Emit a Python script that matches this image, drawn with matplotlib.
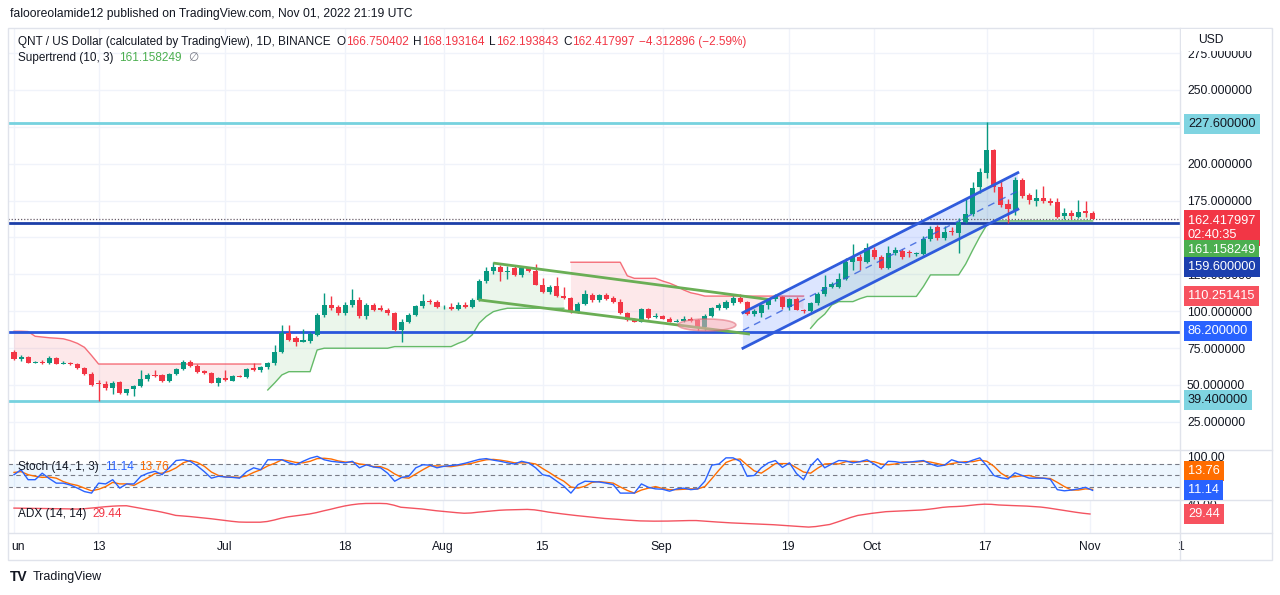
import numpy as np
import matplotlib
matplotlib.use("Agg")
import matplotlib.pyplot as plt
from matplotlib.patches import Ellipse, Rectangle, Polygon
from matplotlib.lines import Line2D

plt.rcParams['font.family'] = ['Liberation Sans', 'DejaVu Sans']

W, H = 1280, 595

# QNT/USD daily candles, Jun 01 2022 .. Nov 01 2022 (day 0 = Jun 01)
opens = [72.2, 67.6, 69.0, 65.1, 65.6, 64.8, 68.3, 64.5, 65.0, 64.0,
         61.4, 57.5, 51.2, 50.8, 47.8, 52.0, 44.6, 47.0, 49.3, 54.0,
         56.8, 56.5, 52.5, 57.7, 60.7, 65.8, 63.0, 59.2, 58.0, 51.6,
         54.6, 53.0, 56.0, 55.7, 61.8, 60.2, 62.0, 64.8, 72.6, 85.0,
         81.6, 79.4, 79.8, 83.9, 97.5, 104.2, 103.0, 98.6, 104.0, 107.6,
         96.6, 104.0, 102.0, 101.0, 98.6, 87.3, 93.0, 97.5, 103.5, 107.0,
         106.5, 102.7, 103.0, 101.6, 104.5, 103.0, 107.6, 120.5, 127.0, 129.8,
         126.5, 129.2, 124.5, 129.0, 127.0, 118.0, 113.0, 117.0, 110.0, 108.8,
         99.3, 104.8, 111.0, 107.6, 110.8, 108.8, 106.5, 98.6, 94.6, 93.0,
         101.5, 96.0, 96.6, 95.0, 93.0, 93.4, 95.0, 94.0, 89.6, 96.6,
         102.0, 102.0, 105.3, 109.0, 106.5, 98.0, 99.0, 104.0, 108.0, 109.5,
         103.0, 108.6, 101.0, 100.4, 105.5, 111.5, 116.5, 116.5, 121.8, 133.3,
         137.0, 133.6, 141.5, 137.0, 129.2, 139.3, 141.0, 139.8, 138.8, 138.5,
         148.8, 157.0, 149.5, 154.5, 152.9, 160.7, 165.7, 184.5, 193.5, 209.3,
         184.5, 173.0, 168.6, 189.0, 178.8, 174.7, 177.0, 175.0, 174.0, 164.5,
         166.5, 164.2, 167.9, 166.750402]
highs = [73.5, 70.0, 69.5, 66.3, 66.8, 69.5, 68.8, 66.0, 65.8, 64.8,
         62.0, 58.5, 53.5, 53.0, 52.5, 52.8, 47.5, 50.0, 60.0, 58.0,
         60.0, 57.5, 58.3, 61.5, 67.0, 67.2, 64.0, 60.0, 58.6, 55.5,
         60.0, 56.8, 56.8, 61.5, 65.0, 63.0, 65.5, 77.0, 90.7, 90.5,
         83.0, 87.8, 86.0, 99.0, 112.6, 110.0, 104.5, 106.0, 115.0, 109.5,
         105.5, 105.5, 104.0, 102.0, 99.5, 94.5, 98.5, 104.5, 111.5, 108.5,
         107.5, 104.5, 105.5, 106.0, 106.5, 109.0, 122.0, 130.0, 133.6, 131.0,
         130.5, 131.0, 130.0, 130.0, 132.0, 122.5, 117.5, 123.4, 116.5, 109.5,
         106.0, 114.5, 112.5, 112.0, 112.5, 110.0, 108.0, 99.5, 95.5, 102.5,
         102.5, 99.0, 97.5, 96.0, 94.5, 96.5, 96.0, 95.0, 98.0, 103.0,
         105.5, 107.5, 110.5, 112.0, 107.0, 101.5, 105.0, 109.0, 111.5, 110.5,
         109.0, 109.5, 101.5, 106.0, 113.0, 124.6, 120.0, 126.0, 136.0, 145.6,
         138.5, 146.5, 143.5, 138.0, 144.4, 143.5, 142.0, 141.5, 140.0, 151.0,
         158.0, 158.5, 157.5, 157.0, 163.0, 176.6, 187.8, 197.0, 228.1, 210.0,
         188.0, 176.0, 191.0, 190.0, 180.0, 183.0, 185.0, 177.0, 176.5, 170.0,
         168.5, 175.4, 174.7, 168.193164]
lows = [67.0, 66.5, 64.8, 64.6, 64.3, 64.2, 64.0, 64.0, 63.2, 60.8,
        56.8, 49.5, 39.4, 46.5, 44.0, 43.8, 43.5, 42.5, 48.5, 53.0,
        55.5, 52.0, 52.0, 57.0, 60.0, 62.5, 58.0, 57.5, 51.0, 49.0,
        53.0, 52.5, 55.2, 55.0, 59.5, 59.0, 61.0, 63.5, 71.5, 79.5,
        76.5, 78.8, 78.5, 83.0, 96.0, 100.5, 97.5, 97.5, 103.0, 95.5,
        95.0, 100.0, 100.0, 97.5, 86.5, 79.4, 92.0, 96.5, 102.5, 105.0,
        102.0, 101.5, 100.5, 101.0, 102.5, 102.5, 107.0, 119.0, 125.5, 120.5,
        121.5, 124.0, 123.5, 126.5, 117.5, 112.5, 111.5, 109.5, 108.0, 98.5,
        98.5, 104.0, 106.5, 106.5, 107.5, 105.5, 98.0, 93.5, 92.5, 92.5,
        95.0, 95.5, 94.5, 92.5, 92.5, 93.0, 93.0, 87.5, 87.3, 96.0,
        101.0, 101.5, 104.5, 105.5, 97.5, 96.5, 96.3, 101.5, 107.0, 101.5,
        100.5, 100.5, 98.5, 99.5, 104.5, 110.5, 115.5, 115.5, 121.0, 128.0,
        128.0, 132.5, 135.5, 128.5, 128.5, 138.0, 135.5, 137.0, 137.5, 138.0,
        147.5, 148.0, 148.5, 152.0, 139.5, 159.5, 164.5, 180.0, 190.5, 181.0,
        170.5, 159.6, 165.5, 176.5, 172.5, 171.0, 173.5, 172.0, 163.0, 162.5,
        162.5, 163.5, 164.0, 162.193843]
closes = [67.6, 69.0, 65.1, 65.6, 64.8, 68.5, 64.5, 65.0, 64.0, 61.4,
          57.3, 50.0, 50.8, 47.8, 51.6, 44.4, 47.0, 49.3, 54.0, 57.0,
          56.2, 52.5, 57.7, 60.7, 65.8, 63.0, 58.6, 58.0, 51.6, 54.6,
          53.5, 56.1, 55.7, 60.7, 60.2, 62.0, 64.8, 72.6, 85.0, 80.5,
          79.4, 80.5, 84.6, 97.5, 104.2, 102.0, 98.6, 104.0, 107.6, 96.6,
          104.0, 101.0, 101.0, 98.6, 87.3, 93.0, 97.5, 103.5, 107.0, 106.5,
          102.7, 103.0, 101.6, 104.5, 103.0, 107.6, 120.5, 127.0, 129.8, 126.5,
          127.0, 124.5, 129.0, 127.0, 118.0, 113.0, 116.5, 110.0, 108.8, 99.3,
          104.8, 111.5, 107.6, 110.8, 108.0, 106.5, 98.6, 94.0, 93.0, 101.5,
          95.7, 96.3, 95.0, 93.0, 93.6, 95.0, 93.4, 89.6, 96.6, 102.0,
          104.0, 106.5, 109.0, 106.5, 98.0, 100.4, 104.0, 108.0, 110.0, 103.0,
          108.0, 101.0, 100.0, 105.5, 111.5, 116.5, 118.6, 121.8, 133.6, 137.0,
          134.0, 142.7, 136.6, 129.2, 139.3, 141.5, 137.0, 139.3, 139.0, 148.8,
          155.6, 149.5, 154.0, 154.0, 160.7, 165.7, 183.8, 194.2, 209.3, 184.5,
          172.0, 169.3, 189.0, 178.4, 175.4, 177.0, 175.0, 173.5, 164.2, 166.5,
          164.5, 167.5, 166.75, 162.417997]

nan = np.nan
# Supertrend (10, 3): red (down) and green (up) legs
st_dn = ([86.4, 86.4, 86.2, 83.0, 82.5, 82.0, 81.7, 81.3, 80.0, 78.2, 75.5, 70.0]
         + [64.2] * 24 + [nan] * 43
         + [133.2] * 8 + [124.0, 122.3, 122.3, 122.3, 122.3, 120.5, 119.0, 117.0, 114.4, 112.5, 111.5]
         + [110.251415] * 15 + [nan] * 41)
st_up = ([nan] * 36
         + [46.6, 51.5, 56.8, 59.0, 59.0, 59.0, 59.0, 73.7, 74.9] + [74.9] * 9 + [76.0] * 9
         + [78.2, 80.0, 84.0, 92.0, 96.5, 99.7, 101.0] + [102.0] * 9
         + [nan] * 34
         + [88.4, 94.0, 98.0, 104.2, 106.5, 106.5, 106.5, 108.5, 110.0] + [110.0] * 7
         + [116.7, 124.6, 124.6, 124.6, 124.6, 124.6, 132.0, 141.5, 150.5, 158.5]
         + [161.158249] * 15)

# Stochastic (14, 1, 3) and ADX (14, 14)
stoch_k = [52, 65, 39, 39, 56, 42, 30, 30, 25, 17,
           8, 4, 30, 28, 39, 17, 28, 28, 48, 56,
           61, 52, 70, 89, 91, 87, 75, 60, 43, 48,
           46, 45, 43, 60, 70, 65, 91, 91, 91, 83,
           78, 87, 95, 100, 91, 87, 85, 83, 87, 70,
           78, 72, 70, 56, 35, 45, 48, 70, 78, 77,
           70, 74, 76, 78, 82, 87, 92, 94, 90, 87,
           83, 80, 87, 83, 70, 52, 48, 35, 22, 4,
           26, 35, 34, 33, 30, 26, 4, 4, 4, 28,
           19, 15, 14, 9, 15, 17, 13, 15, 35, 77,
           80, 96, 96, 87, 48, 50, 70, 83, 89, 71,
           83, 55, 39, 75, 94, 70, 80, 89, 88, 83,
           86, 91, 80, 68, 87, 86, 83, 85, 87, 89,
           80, 74, 77, 91, 85, 83, 90, 96, 75, 50,
           44, 41, 57, 50, 43, 43, 43, 40, 13, 10,
           12, 15, 19, 11.14]
stoch_d = [58, 60, 52, 48, 45, 46, 43, 34, 28, 24,
           17, 10, 14, 21, 32, 28, 28, 24, 34, 44,
           55, 56, 61, 70, 83, 89, 84, 74, 59, 50,
           46, 46, 45, 49, 58, 65, 75, 82, 91, 88,
           84, 83, 87, 94, 95, 93, 88, 85, 85, 80,
           78, 73, 73, 66, 54, 45, 43, 54, 65, 75,
           75, 74, 73, 76, 79, 82, 87, 91, 92, 90,
           87, 83, 83, 83, 80, 68, 57, 45, 35, 20,
           17, 22, 32, 34, 32, 30, 20, 11, 4, 12,
           17, 21, 16, 13, 13, 14, 15, 15, 21, 42,
           64, 84, 91, 93, 77, 62, 56, 68, 81, 81,
           81, 70, 59, 56, 69, 80, 81, 80, 86, 87,
           86, 87, 86, 80, 78, 80, 85, 85, 85, 87,
           85, 81, 77, 81, 84, 86, 86, 90, 87, 74,
           56, 45, 47, 49, 50, 45, 43, 42, 32, 21,
           12, 12, 15, 13.76]
adx = [36.2, 36.1, 36.0, 35.9, 35.8, 35.6, 35.5, 35.4, 35.2, 35.1,
       35.5, 36.2, 37.0, 37.8, 38.4, 38.8, 38.9, 37.5, 36.0, 34.5,
       33.2, 31.6, 29.8, 27.8, 27.2, 26.5, 25.7, 24.9, 24.0, 23.0,
       22.0, 21.0, 20.2, 20.0, 20.0, 20.0, 20.8, 22.5, 24.6, 26.2,
       27.3, 28.5, 29.4, 31.0, 33.0, 34.8, 36.8, 38.6, 40.0, 41.0,
       41.5, 41.6, 41.6, 41.3, 39.6, 37.2, 36.5, 35.8, 35.2, 34.2,
       33.2, 32.4, 31.6, 30.9, 30.3, 30.6, 31.5, 32.2, 33.0, 33.7,
       34.1, 34.3, 34.5, 34.7, 34.2, 33.0, 31.6, 30.5, 29.5, 28.5,
       27.6, 26.8, 26.0, 25.1, 24.3, 23.8, 23.2, 22.5, 22.0, 21.5,
       21.3, 21.2, 21.2, 21.3, 21.5, 21.7, 21.9, 21.9, 21.3, 20.7,
       20.2, 19.7, 19.2, 18.9, 18.5, 18.1, 17.8, 17.5, 17.1, 16.6,
       16.0, 15.4, 14.9, 14.4, 15.0, 16.2, 17.4, 20.0, 22.8, 25.5,
       27.8, 29.0, 30.2, 31.2, 32.1, 32.5, 32.9, 33.3, 33.7, 34.0,
       34.8, 35.8, 37.0, 37.7, 38.0, 38.5, 39.3, 40.2, 40.7, 40.5,
       39.8, 39.4, 39.1, 38.8, 38.5, 38.0, 37.4, 36.4, 35.2, 33.9,
       32.6, 31.4, 30.3, 29.44]

# horizontal levels drawn on the chart
levels_cyan = [227.6, 39.4]
level_support = 86.2
level_mid = 159.6
last_price = 162.417997

# drawn channels (day, price)
green_upper = ([68.2, 106.8], [132.5, 108.1])
green_lower = ([66.1, 104.2], [107.6, 84.6])
blue_days = [103.4, 142.4]
blue_upper = [99.0, 193.9]
blue_lower = [74.9, 169.1]
blue_mid = [87.0, 181.5]
ellipse_center = (98.3, 90.7)

date_ticks = [0.57, 12, 30, 47, 61, 75, 92, 110, 122, 138, 153, 165.8]
date_labels = ["un", "13", "Jul", "18", "Aug", "15", "Sep", "19", "Oct", "17", "Nov", "1"]
grid_days = [0, 12, 30, 47, 61, 75, 92, 110, 122, 138, 153, 166]
price_ticks = [25, 50, 75, 100, 125, 150, 175, 200, 225, 250, 275]
hidden_ticks = [150, 225]   # fully covered by price tags in the reference

GREEN, RED = '#089981', '#f23645'
TXT = '#131722'
GRID = '#f0f3fa'
SEP = '#e0e3eb'


def fx(px):
    return px / W


def fy(py):
    return 1 - py / H


fig = plt.figure(figsize=(12.8, 5.95), dpi=100)
fig.patch.set_facecolor('white')

left, right = 8, 1180
ax = fig.add_axes([fx(left), fy(450), fx(right) - fx(left), fy(28) - fy(450)])
ax_st = fig.add_axes([fx(left), fy(500), fx(right) - fx(left), fy(450) - fy(500)])
ax_adx = fig.add_axes([fx(left), fy(533), fx(right) - fx(left), fy(500) - fy(533)])

xmin, xmax = -0.85, 165.4
for a in (ax, ax_st, ax_adx):
    a.set_xlim(xmin, xmax)
    for s in a.spines.values():
        s.set_visible(False)
    a.set_xticks([])
    for d in grid_days:
        a.axvline(d, color=GRID, lw=1, zorder=0)

# ---- price pane ----
ax.set_ylim(5.9, 292)
for p in price_ticks:
    ax.axhline(p, color=GRID, lw=1, zorder=0)
ax.yaxis.tick_right()
ax.set_yticks(price_ticks)
ax.set_yticklabels(["" if p in hidden_ticks else f"{p:.6f}" for p in price_ticks])
ax.tick_params(axis='y', length=0, pad=5, labelsize=8.7, labelcolor=TXT)

days = np.arange(len(closes))
o, h, l, c = (np.array(v, dtype=float) for v in (opens, highs, lows, closes))
st_dn = np.array(st_dn, dtype=float)
st_up = np.array(st_up, dtype=float)
mid = (o + c) / 2

ax.fill_between(days, st_up, mid, where=~np.isnan(st_up), color='#4caf50', alpha=0.11, lw=0, zorder=1)
ax.fill_between(days, st_dn, mid, where=~np.isnan(st_dn), color='#f23645', alpha=0.11, lw=0, zorder=1)
ax.plot(days, st_up, color='#4caf50', lw=1, alpha=0.85, zorder=2)
ax.plot(days, st_dn, color='#f23645', lw=1, alpha=0.7, zorder=2)

for lv in levels_cyan:
    ax.axhline(lv, color='#76d2df', lw=2, zorder=3)
ax.axhline(level_support, color='#2a56dc', lw=2, zorder=3)
ax.axhline(level_mid, color='#1c3fa8', lw=2, zorder=3)
ax.axhline(last_price, color='#6a5f6b', lw=0.9, ls=(0, (1, 1.5)), zorder=3)

# channels
for xs, ys in (green_upper, green_lower):
    ax.plot(xs, ys, color='#6aae55', lw=2, zorder=6)
ax.add_patch(Polygon([(blue_days[0], blue_upper[0]), (blue_days[1], blue_upper[1]),
                      (blue_days[1], blue_lower[1]), (blue_days[0], blue_lower[0])],
                     closed=True, fc='#2962ff', alpha=0.16, lw=0, zorder=2))
ax.plot(blue_days, blue_upper, color='#2f5bdc', lw=2, zorder=6)
ax.plot(blue_days, blue_lower, color='#2f5bdc', lw=2, zorder=6)
ax.plot(blue_days, blue_mid, color='#2f5bdc', lw=1, ls=(0, (5, 4)), alpha=0.8, zorder=6)
ax.add_patch(Ellipse(ellipse_center, 8.2, 8.1, fc='#f4a7b3', ec='#e06472', lw=1.2, alpha=0.55, zorder=6))

# candles
col = np.where(c >= o, GREEN, RED)
ax.vlines(days, l, h, colors=col, lw=1, zorder=4)
ax.bar(days, np.maximum(np.abs(c - o), 0.45), bottom=np.minimum(o, c), width=0.72,
       color=col, lw=0, zorder=5)

# ---- stochastic pane ----
ax_st.set_ylim(-14, 116.5)
ax_st.axhspan(20, 80, color='#2196f3', alpha=0.08, lw=0, zorder=0)
for lv in (80, 50, 20):
    ax_st.axhline(lv, color='#787b86', lw=0.8, ls=(0, (4, 3)), zorder=1)
ax_st.plot(days, stoch_k, color='#2962ff', lw=1, zorder=3)
ax_st.plot(days, stoch_d, color='#ff6d00', lw=1, zorder=2)
ax_st.yaxis.tick_right()
ax_st.set_yticks([100])
ax_st.set_yticklabels(["100.00"])
ax_st.tick_params(axis='y', length=0, pad=5, labelsize=8.7, labelcolor=TXT)

# ---- ADX pane ----
ax_adx.set_ylim(7.6, 45.5)
ax_adx.plot(days, adx, color='#f23645', lw=1, alpha=0.85)
ax_adx.yaxis.tick_right()
ax_adx.set_yticks([40])
ax_adx.set_yticklabels(["40.00"])
ax_adx.tick_params(axis='y', length=0, pad=5, labelsize=8.7, labelcolor=TXT)
ax_adx.set_xticks(date_ticks)
ax_adx.set_xticklabels(date_labels)
ax_adx.tick_params(axis='x', length=0, pad=6, labelsize=8.7, labelcolor=TXT)

# ---- frame and separators ----
fig.add_artist(Rectangle((fx(8), fy(560)), fx(1272) - fx(8), fy(28) - fy(560),
                         transform=fig.transFigure, fill=False, ec=SEP, lw=1, zorder=4))
for yy in (450, 500, 533):
    fig.add_artist(Line2D([fx(8), fx(1272)], [fy(yy), fy(yy)], color=SEP, lw=1, zorder=4))
fig.add_artist(Line2D([fx(1180), fx(1180)], [fy(28), fy(560)], color=SEP, lw=1, zorder=4))
fig.add_artist(Rectangle((fx(1181), fy(51)), fx(90), fy(29) - fy(51), transform=fig.transFigure,
                         fc='white', ec='none', zorder=5))
fig.text(fx(1198), fy(40), "USD", fontsize=8.7, color=TXT, va='center', zorder=6)


# ---- right axis tags ----
def tag(py, txt, bg, fg='white'):
    fig.text(fx(1188), fy(py), txt, color=fg, fontsize=9.2, va='center', ha='left', zorder=7,
             linespacing=1.3, bbox=dict(boxstyle='square,pad=0.33', fc=bg, ec='none'))


tag(124, "227.600000", '#7fd4e1', TXT)
tag(228, "162.417997\n02:40:35", '#f23645')
tag(250, "161.158249", '#4caf50')
tag(267, "159.600000", '#1c3fae')
tag(296, "110.251415", '#f7525f')
tag(331, "86.200000", '#2962ff')
tag(400, "39.400000", '#7fd4e1', TXT)
tag(471, "13.76", '#ff6d00')
tag(490, "11.14", '#2962ff')
tag(514, "29.44", '#f7525f')


# ---- legend rows ----
def row(x, y, parts, size=8.5):
    r = fig.canvas.get_renderer()
    for s, colr, gap in parts:
        t = fig.text(fx(x), fy(y), s, color=colr, fontsize=size, va='center', ha='left', zorder=7)
        x += t.get_window_extent(r).width + gap


row(10, 14, [("falooreolamide12 published on TradingView.com, Nov 01, 2022 21:19 UTC", TXT, 0)], 8.7)
row(18, 42, [("QNT / US Dollar (calculated by TradingView), 1D, BINANCE", TXT, 6),
             ("O", TXT, 0), ("166.750402", RED, 5), ("H", TXT, 0), ("168.193164", RED, 5),
             ("L", TXT, 0), ("162.193843", RED, 5), ("C", TXT, 0), ("162.417997", RED, 5),
             ("\u22124.312896 (\u22122.59%)", RED, 0)])
row(18, 58, [("Supertrend (10, 3)", TXT, 6), ("161.158249", '#4caf50', 6), ("\u2205", '#787b86', 0)])
row(18, 467, [("Stoch (14, 1, 3)", TXT, 6), ("11.14", '#2962ff', 5), ("13.76", '#ff6d00', 0)])
row(18, 514, [("ADX (14, 14)", TXT, 6), ("29.44", '#f23645', 0)])

fig.text(fx(10), fy(577), "TV", fontsize=10, fontweight='bold', color=TXT, va='center')
fig.text(fx(33), fy(577), "TradingView", fontsize=9, color=TXT, va='center')

fig.savefig("out.png", dpi=100, facecolor='white')
